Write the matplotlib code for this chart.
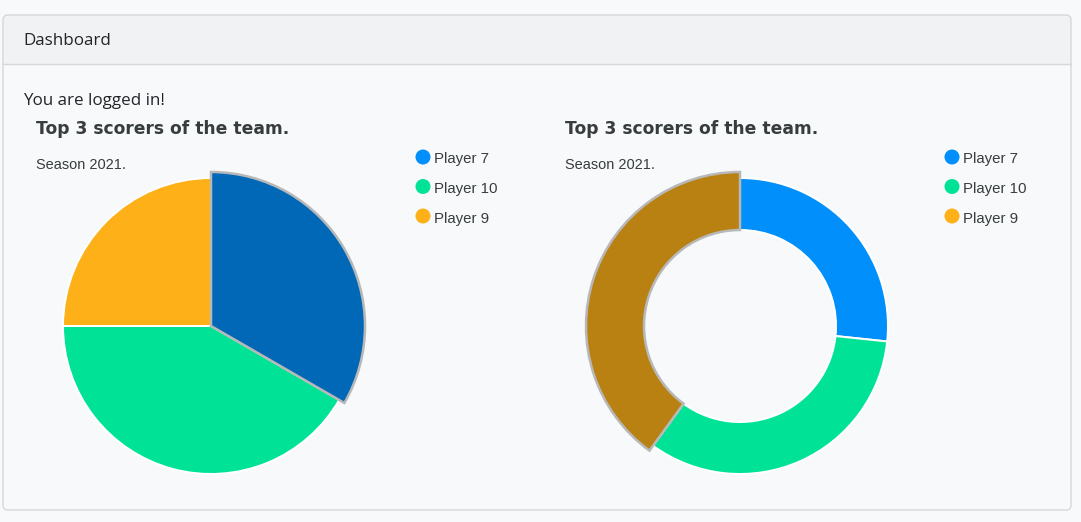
import matplotlib.pyplot as plt
from matplotlib.patches import FancyBboxPatch, Rectangle, Circle
from matplotlib.colors import to_rgb

W, H = 1081, 522

players = ["Player 7", "Player 10", "Player 9"]
goals_pie = [4, 5, 3]
goals_donut = [4, 5, 6]
colors = ["#008FFB", "#00E396", "#FEB019"]
active_pie = 0      # slice shown in hover state
active_donut = 2
title = "Top 3 scorers of the team."
subtitle = "Season 2021."

PX = 72 / 100  # points per pixel


def Y(py):
    return H - py


def darken(c, f=0.73):
    r, g, b = to_rgb(c)
    return (r * f, g * f, b * f)


fig = plt.figure(figsize=(W / 100, H / 100), dpi=100)
fig.patch.set_facecolor("#f8f9fa")
ax = fig.add_axes([0, 0, 1, 1])

# card
card = FancyBboxPatch((3, Y(510)), 1068, 495, boxstyle="round,pad=0,rounding_size=5",
                      fc="#f8f9fa", ec="none", zorder=0)
ax.add_patch(card)
head = FancyBboxPatch((3, Y(64)), 1068, 49, boxstyle="round,pad=0,rounding_size=5",
                      fc="#f1f2f3", ec="none", zorder=0.5)
ax.add_patch(head)
ax.add_patch(Rectangle((3, Y(64)), 1068, 8, fc="#f1f2f3", ec="none", zorder=0.6))
ax.plot([3, 1071], [Y(64), Y(64)], color="#d6d7d8", lw=1.0, zorder=0.7)
border = FancyBboxPatch((3, Y(510)), 1068, 495, boxstyle="round,pad=0,rounding_size=5",
                        fc="none", ec="#d6d7d8", lw=1.0, zorder=0.8)
ax.add_patch(border)

ax.text(23, Y(45), "Dashboard", fontsize=17 * PX, family="Open Sans", color="#212529",
        va="baseline")
ax.text(23, Y(105), "You are logged in!", fontsize=17 * PX, family="Open Sans",
        color="#212529", va="baseline")


def chart(x0, values, donut, active):
    cx, cy, r = x0 + 175, Y(326), 148
    ax.text(x0, Y(134), title, fontsize=17.1 * PX, fontweight="bold",
            family="DejaVu Sans", color="#373d3f", va="baseline")
    ax.text(x0, Y(169), subtitle, fontsize=14.5 * PX, family="Liberation Sans",
            color="#373d3f", va="baseline")

    wp = dict(edgecolor="white", linewidth=2 * PX)
    if donut:
        wp["width"] = 52
    wedges, _ = ax.pie(values, colors=colors, startangle=90, counterclock=False,
                       center=(cx, cy), radius=r, frame=True, wedgeprops=wp)
    w = wedges[active]
    w.set_radius(r + 6)
    if donut:
        w.set_width(58)
    w.set_facecolor(darken(colors[active]))
    w.set_edgecolor("#b8b8b8")
    w.set_linewidth(2.5 * PX)
    w.set_zorder(3)

    # legend
    for i, name in enumerate(players):
        my = 157 + i * 29.5
        ax.add_patch(Circle((x0 + 387, Y(my)), 7.5, fc=colors[i], ec="none"))
        ax.text(x0 + 398, Y(my + 6.5), name, fontsize=15 * PX, family="Liberation Sans",
                color="#373d3f", va="baseline")


chart(36, goals_pie, False, active_pie)
chart(565, goals_donut, True, active_donut)

ax.set_xlim(0, W)
ax.set_ylim(0, H)
ax.set_aspect("auto")
ax.axis("off")

fig.savefig("out.png", dpi=100, facecolor=fig.get_facecolor())
